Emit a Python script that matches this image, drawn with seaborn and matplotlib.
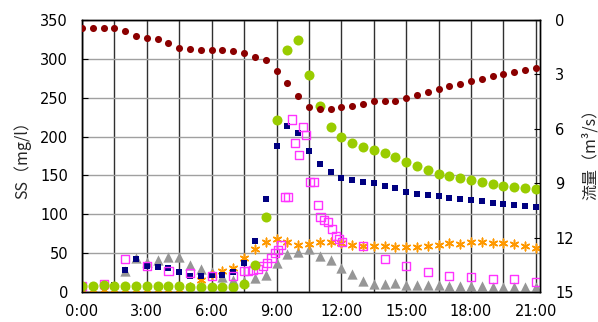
import matplotlib
matplotlib.use("Agg")
import matplotlib.pyplot as plt
import matplotlib.ticker as mticker
import seaborn as sns
import pandas as pd

# ---- sampling times ----
times_30min = ["0:00", "0:30", "1:00", "1:30", "2:00", "2:30", "3:00", "3:30",
               "4:00", "4:30", "5:00", "5:30", "6:00", "6:30", "7:00", "7:30",
               "8:00", "8:30", "9:00", "9:30", "10:00", "10:30", "11:00", "11:30",
               "12:00", "12:30", "13:00", "13:30", "14:00", "14:30", "15:00", "15:30",
               "16:00", "16:30", "17:00", "17:30", "18:00", "18:30", "19:00", "19:30",
               "20:00", "20:30", "21:00"]

# discharge (m3/s), right axis
flow = [0.46, 0.46, 0.46, 0.46, 0.62, 0.90, 0.97, 1.03, 1.25, 1.52, 1.58, 1.63,
        1.63, 1.63, 1.69, 1.80, 2.04, 2.20, 2.81, 3.49, 4.17, 4.78, 4.89, 4.89,
        4.78, 4.72, 4.61, 4.44, 4.44, 4.44, 4.28, 4.15, 3.98, 3.82, 3.65, 3.54,
        3.38, 3.27, 3.09, 2.98, 2.88, 2.75, 2.64]

# SS (mg/l) at four half-hourly stations
ss_green = [8, 8, 8.5, 8, 8, 8, 8, 8, 8, 8, 7, 7, 6.4, 6, 6.4, 10, 34.5, 96.5,
            221.7, 312, 323.7, 279.6, 239.3, 212.7, 199.8, 191.7, 186.6, 182.7,
            178.4, 173.2, 166.8, 161.6, 156.5, 152.2, 149.7, 147.1, 144.5, 141.9,
            139.4, 136.8, 135.5, 134.2, 132.9]
ss_navy = [8, 7, 8, 9, 28.7, 42.4, 33, 32.3, 30.4, 26.3, 20.1, 20, 21.8, 21.8,
           25.2, 37.7, 66.2, 119.6, 187.4, 214, 205, 181, 164.2, 154, 147, 143.6,
           141.9, 140.6, 136.8, 133.3, 128.2, 126.1, 124.8, 123.5, 120.4, 119.6,
           117.9, 116.6, 114, 112.7, 111.9, 110.1, 109.4]
ss_orange = [3, 3, 3, 3, 3, 3, 3, 3, 2.5, 2, 6, 15.8, 22.3, 26.5, 30.9, 43.7,
             55.5, 64.7, 68.5, 64.7, 60.9, 62, 64.3, 64.3, 63, 60.9, 59.6, 59.6,
             59.6, 57.9, 57.9, 57.9, 59.6, 60.9, 63, 62.2, 64.3, 64.3, 63, 63,
             61.8, 59.6, 56.6]
ss_gray = [3, 3, 3, 3, 27.4, 43.2, 39.2, 41, 44.7, 44.7, 34.5, 29.2, 25.2, 19,
           15.3, 14.5, 18.4, 22.3, 37.5, 48.5, 51.5, 55.5, 46.3, 40.7, 30.9, 23.4,
           14.3, 9.8, 9.8, 11.3, 9.4, 9.4, 8.5, 8.5, 7.2, 7.2, 7.2, 7.2, 7, 7, 7,
           7, 7]

# SS (mg/l) at the station sampled densely during the storm
times_dense = ["0:00", "1:00", "2:00", "3:00", "4:00", "5:00", "6:00", "7:00",
               "7:30", "7:41", "7:55", "8:09", "8:23", "8:34", "8:46", "8:57",
               "9:04", "9:12", "9:23", "9:32", "9:43", "9:51", "10:03", "10:13",
               "10:23", "10:34", "10:44", "10:54", "11:02", "11:12", "11:23",
               "11:34", "11:44", "11:53", "12:01", "13:00", "14:00", "15:00",
               "16:00", "17:00", "18:00", "19:00", "20:00", "21:00"]
ss_magenta = [8, 9.8, 42.4, 33, 27.4, 25, 21, 20.5, 27, 26.5, 28.7, 30, 33, 37.3,
              43.7, 50.2, 54.4, 60.9, 122, 122, 222, 192, 176, 212, 202, 142, 142,
              112, 96, 93, 89.6, 81.5, 72.4, 68.2, 64.3, 59, 42.4, 33, 25.2, 20.1,
              19, 16.5, 16.5, 12.4]

tick_labels = ["0:00", "3:00", "6:00", "9:00", "12:00", "15:00", "18:00", "21:00"]


def to_hours(label):
    h, m = label.split(":")
    return int(h) + int(m) / 60.0


half = pd.DataFrame({
    "t": [to_hours(s) for s in times_30min],
    "flow": flow,
    "green": ss_green,
    "navy": ss_navy,
    "orange": ss_orange,
    "gray": ss_gray,
})
dense = pd.DataFrame({"t": [to_hours(s) for s in times_dense], "ss": ss_magenta})

sns.set_style("white")
plt.rcParams["font.family"] = ["DejaVu Sans"]
cjk = ["Noto Sans CJK JP", "DejaVu Sans"]

fig = plt.figure(figsize=(5.98, 3.22), dpi=100)
ax = fig.add_axes([82 / 598, 1 - 292 / 322, (540 - 82) / 598, (292 - 20) / 322])
ax2 = ax.twinx()

# draw order: left-axis series below, discharge on top
ax.set_zorder(1)
ax2.set_zorder(2)
ax2.patch.set_visible(False)

sns.scatterplot(data=half, x="t", y="gray", ax=ax, marker="^", s=55,
                color="#969696", linewidth=0, zorder=3)
sns.scatterplot(data=half, x="t", y="orange", ax=ax, marker=(6, 2, 0), s=38,
                color="#ff9900", linewidth=1.1, zorder=4)
sns.scatterplot(data=half, x="t", y="navy", ax=ax, marker="s", s=24,
                color="#000080", linewidth=0, zorder=5)
sns.scatterplot(data=dense, x="t", y="ss", ax=ax, marker="s", s=34,
                facecolors="none", edgecolor="#ff33ff", linewidth=1.0, zorder=6)
sns.scatterplot(data=half, x="t", y="green", ax=ax, marker="o", s=52,
                color="#99cc00", linewidth=0, zorder=7)
sns.scatterplot(data=half, x="t", y="flow", ax=ax2, marker="o", s=26,
                color="#8b0000", linewidth=0, zorder=8)

# axes limits and ticks
ax.set_xlim(0, 21.19)
ax.set_ylim(0, 350)
ax2.set_ylim(15, 0)

ax.xaxis.set_major_locator(mticker.FixedLocator([3 * i for i in range(len(tick_labels))]))
ax.xaxis.set_major_formatter(mticker.FixedFormatter(tick_labels))
ax.xaxis.set_minor_locator(mticker.MultipleLocator(1.5))
ax.yaxis.set_major_locator(mticker.MultipleLocator(50))
ax2.yaxis.set_major_locator(mticker.MultipleLocator(3))

ax.grid(False)
ax2.grid(False)
ax.grid(True, which="minor", axis="x", color="#303030", linewidth=1.0)
ax.grid(True, which="major", axis="x", color="#303030", linewidth=1.0)
ax.grid(True, which="major", axis="y", color="#a0a0a0", linewidth=1.0)
ax.set_axisbelow(True)

ax.tick_params(axis="x", which="both", length=0, pad=9, labelsize=10.5, colors="black")
ax.tick_params(axis="y", direction="in", length=4, pad=10, labelsize=10.5, colors="black")
ax2.tick_params(axis="y", direction="in", length=4, pad=11, labelsize=10.5, colors="black")

for a in (ax, ax2):
    for sp in a.spines.values():
        sp.set_visible(True)
        sp.set_color("black")
        sp.set_linewidth(1.0)

ax.set_xlabel("")
ax.set_ylabel("")
ax2.set_ylabel("")

fig.text(22 / 598, 1 - 156 / 322, "SS（mg/l）", rotation=90, ha="center",
         va="center", fontsize=11.5, family=cjk)
fig.text(590 / 598, 1 - 150 / 322, "流量（m³/s）", rotation=90, ha="center",
         va="center", fontsize=11.5, family=cjk)

fig.savefig("out.png", dpi=100)
